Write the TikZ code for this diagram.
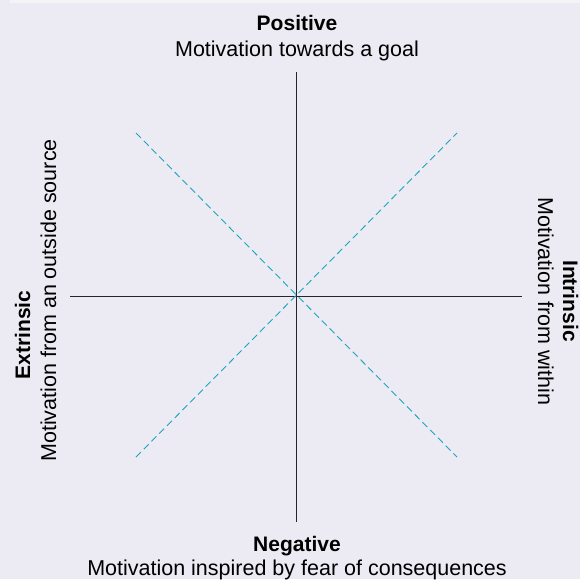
\documentclass[tikz,border=0pt]{standalone}
\usepackage{fontspec}
\setmainfont{Liberation Sans}
\definecolor{bgc}{HTML}{ECEAF2}
\definecolor{stripc}{HTML}{F4F4F6}
\definecolor{dashc}{HTML}{1AA6C0}
\tikzset{
  axis/.style={draw=black!85, line width=0.9pt},
  diag/.style={draw=dashc, line width=0.9pt, dash pattern=on 7pt off 4pt},
  lbl/.style={font=\fontsize{21.5}{24}\selectfont, inner sep=0pt, anchor=base},
  ttl/.style={font=\fontsize{21}{24}\selectfont\bfseries, inner sep=0pt, anchor=base}
}
\begin{document}
\begin{tikzpicture}[x=1pt,y=-1pt]
\fill[bgc] (0,0) rectangle (580,579);
\useasboundingbox (0,0) rectangle (580,579);
\fill[stripc] (10,0) rectangle (580,3);
\coordinate (c) at (296.5,296);
\coordinate (t) at (296.5,72);
\coordinate (b) at (296.5,522);
\coordinate (l) at (70,296);
\coordinate (r) at (522,296);
\coordinate (tl) at (136,133);
\coordinate (tr) at (457,133);
\coordinate (bl) at (136,457);
\coordinate (br) at (457,457);
\draw[axis] (t) -- (b);
\draw[axis] (l) -- (r);
\draw[diag] (tl) -- (br);
\draw[diag] (bl) -- (tr);
\node[ttl] (pos) at (297,30) {Positive};
\node[lbl] (posd) at (297,56) {Motivation towards a goal};
\node[ttl] (neg) at (297,551) {Negative};
\node[lbl] (negd) at (297,575) {Motivation inspired by fear of consequences};
\node[ttl, rotate=90] (ext) at (30,335) {Extrinsic};
\node[lbl, rotate=90] (extd) at (56,300.5) {Motivation from an outside source};
\node[ttl, rotate=-90] (int) at (563,301) {Intrinsic};
\node[lbl, rotate=-90] (intd) at (538,301.5) {Motivation from within};
\end{tikzpicture}
\end{document}
